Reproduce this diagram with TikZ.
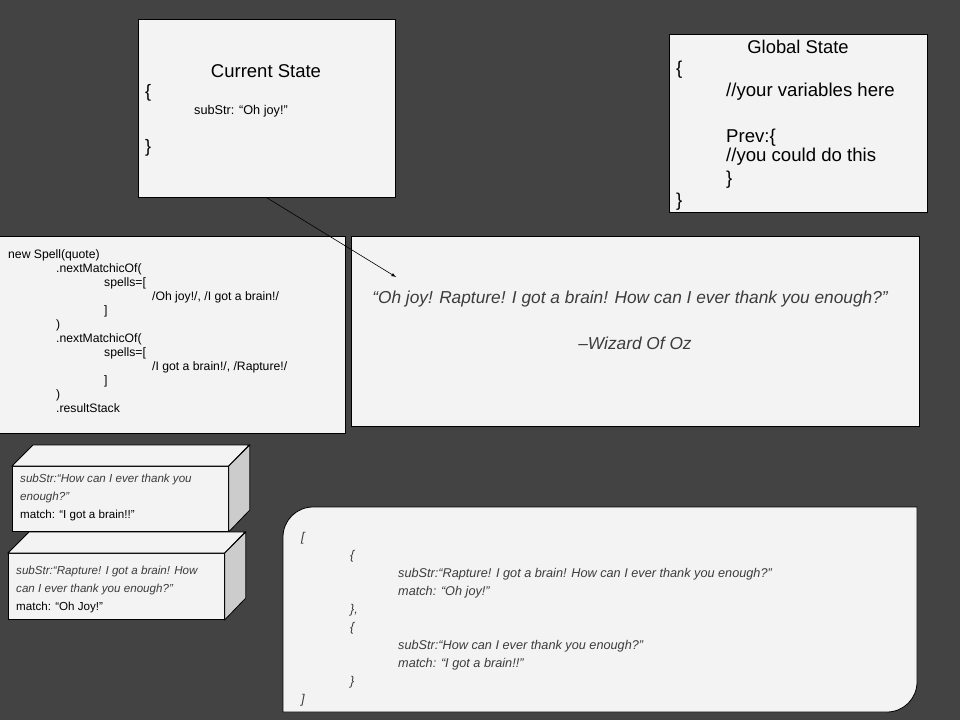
\documentclass[tikz,border=0pt]{standalone}
\usepackage{fontspec}
\setmainfont{Liberation Sans}
\usetikzlibrary{arrows,positioning}

\definecolor{bgdark}{HTML}{434343}
\definecolor{panelgray}{HTML}{F3F3F3}
\definecolor{sidegray}{HTML}{CCCCCC}
\definecolor{inkgray}{HTML}{3C3C3C}

\tikzset{
  panel/.style={draw=black, fill=panelgray, line width=0.8pt},
  box/.style={panel, inner sep=0pt, anchor=north west},
  cubeside/.style={draw=black, fill=sidegray, line width=0.8pt},
  line/.style={inner sep=0pt, anchor=west},
  block/.style={inner sep=0pt, anchor=north west, align=left},
  titletext/.style={inner sep=0pt, font=\fontsize{18.5}{22}\selectfont},
  globaltext/.style={line, font=\fontsize{18.6}{22}\selectfont},
  quotetext/.style={inner sep=0pt, text=inkgray, font=\fontsize{17.3}{20}\selectfont\itshape}
}

\begin{document}
\begin{tikzpicture}[x=1pt, y=-1pt]
    % Background
    \fill[bgdark] (0,0) rectangle (960,720);
    \useasboundingbox (0,0) rectangle (960,720);

    % Current State
    \node[box, minimum width=257pt, minimum height=178pt] (cur) at (138,19) {};
    \node[titletext] (curtitle) at (266,71) {Current State};
    \node[line, font=\fontsize{18}{21}\selectfont] (curopen) at (145,93) {\{};
    \node[line, font=\fontsize{12.7}{15}\selectfont] (cursub) at (194,111) {subStr: “Oh joy!”};
    \node[line, font=\fontsize{18}{21}\selectfont] (curclose) at (145,148) {\}};

    % Global State
    \node[box, minimum width=258pt, minimum height=178pt] (glob) at (669,34) {};
    \node[titletext, font=\fontsize{18.4}{22}\selectfont] (globtitle) at (798,47) {Global State};
    \node[globaltext] (globopen) at (676,70) {\{};
    \node[globaltext] (globvars) at (726,92) {//your variables here};
    \node[globaltext] (globprev) at (726,138) {Prev:\{};
    \node[globaltext] (globcould) at (726,157) {//you could do this};
    \node[globaltext] (globprevclose) at (726,180) {\}};
    \node[globaltext] (globclose) at (676,202) {\}};

    % Spell code
    \node[box, minimum width=347pt, minimum height=197pt] (code) at (-2,236) {};
    \node[block, font=\fontsize{12.2}{14}\selectfont] (codetext) at (8,249) {%
      new Spell(quote)\\
      \hspace*{48pt}.nextMatchicOf(\\
      \hspace*{96pt}spells=[\\
      \hspace*{144pt}/Oh joy!/, /I got a brain!/\\
      \hspace*{96pt}]\\
      \hspace*{48pt})\\
      \hspace*{48pt}.nextMatchicOf(\\
      \hspace*{96pt}spells=[\\
      \hspace*{144pt}/I got a brain!/, /Rapture!/\\
      \hspace*{96pt}]\\
      \hspace*{48pt})\\
      \hspace*{48pt}.resultStack};

    % Quote
    \node[box, minimum width=568pt, minimum height=190pt] (quote) at (351,236) {};
    \node[quotetext] (quoteline) at (630,299) {“Oh joy! Rapture! I got a brain! How can I ever thank you enough?”};
    \node[quotetext] (quoteby) at (635,343) {–Wizard Of Oz};
    \coordinate (quotetip) at (396,277);
    \draw[-latex, line width=0.6pt] (cur.south) -- (quotetip);

    % Stack, top card
    \node[box, minimum width=216pt, minimum height=65pt] (topcard) at (12,466) {};
    \draw[panel] (topcard.north west) -- ++(21,-21) -- ++(216,0) -- (topcard.north east) -- cycle;
    \draw[cubeside] (topcard.north east) -- ++(21,-21) -- ++(0,65) -- (topcard.south east) -- cycle;
    \node[block, font=\fontsize{11.6}{18}\selectfont] (toptext) at (20,474) {%
      \textcolor{inkgray}{\itshape subStr:“How can I ever thank you}\\
      \textcolor{inkgray}{\itshape enough?”}\\
      match: “I got a brain!!”};

    % Stack, bottom card
    \node[box, minimum width=216pt, minimum height=66pt] (botcard) at (8,553) {};
    \draw[panel] (botcard.north west) -- ++(21,-21) -- ++(216,0) -- (botcard.north east) -- cycle;
    \draw[cubeside] (botcard.north east) -- ++(21,-21) -- ++(0,66) -- (botcard.south east) -- cycle;
    \node[block, font=\fontsize{11.6}{18}\selectfont] (bottext) at (16,565.5) {%
      \textcolor{inkgray}{\itshape subStr:“Rapture! I got a brain! How}\\
      \textcolor{inkgray}{\itshape can I ever thank you enough?”}\\
      match: “Oh Joy!”};

    % Result stack
    \draw[panel] (283,712) -- (283,600) [rounded corners=30pt] -- (283,507) -- (600,507)
      [sharp corners] -- (917,507) -- (917,600) [rounded corners=30pt] -- (917,712) -- (600,712)
      [sharp corners] -- cycle;
    \node[block, text=inkgray, font=\fontsize{12.7}{18}\selectfont\itshape] (result) at (301,532) {%
      [\\
      \hspace*{49pt}\{\\
      \hspace*{97pt}subStr:“Rapture! I got a brain! How can I ever thank you enough?”\\
      \hspace*{97pt}match: “Oh joy!”\\
      \hspace*{49pt}\},\\
      \hspace*{49pt}\{\\
      \hspace*{97pt}subStr:“How can I ever thank you enough?”\\
      \hspace*{97pt}match: “I got a brain!!”\\
      \hspace*{49pt}\}\\
      ]};
\end{tikzpicture}
\end{document}
